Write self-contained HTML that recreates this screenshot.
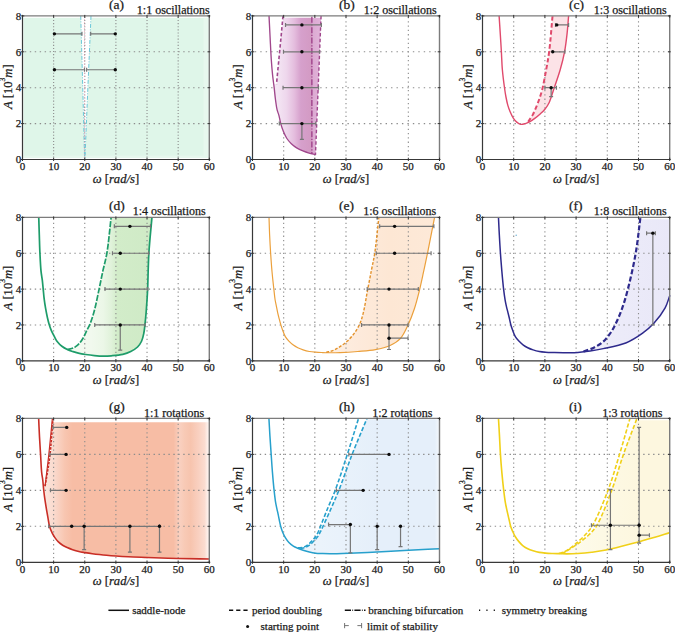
<!DOCTYPE html>
<html><head><meta charset="utf-8"><style>
html,body{margin:0;padding:0;background:#fff;}
svg{display:block;}
text{font-family:'Liberation Serif',serif;fill:#1a1a1a;stroke:#1a1a1a;stroke-width:0.25px;}
.tl{font-size:11px;}
.al{font-size:12.6px;}
.it{font-style:italic;}
.sup{font-size:7.5px;}
.lt{font-size:13.5px;}
.tt{font-size:12px;}
.lg{font-size:11px;}
.ax{fill:none;stroke:#383838;stroke-width:1.2;}
.ax2{fill:none;stroke:#7c7c7c;stroke-width:1.4;}
.tk{stroke:#333;stroke-width:1;}
.gv{stroke:#8c8c8c;stroke-width:1.1;stroke-dasharray:1.3 3.0;}
.gh{stroke:#8c8c8c;stroke-width:1.1;stroke-dasharray:1.4 3.55;}
</style></head><body>
<svg width="675" height="632" viewBox="0 0 675 632">
<defs><linearGradient id="gb" gradientUnits="userSpaceOnUse" x1="277.43" x2="321.07" y1="0" y2="0"><stop offset="0.000" stop-color="#f4e6f4"/><stop offset="0.214" stop-color="#eed6ec"/><stop offset="0.393" stop-color="#e4bcdd"/><stop offset="0.536" stop-color="#d6a0cc"/><stop offset="0.779" stop-color="#d39ac3"/><stop offset="0.814" stop-color="#dcaad2"/><stop offset="1.000" stop-color="#e2b4da"/></linearGradient>
<linearGradient id="gd" gradientUnits="userSpaceOnUse" x1="69.20" x2="153.26" y1="0" y2="0"><stop offset="0.000" stop-color="#f4fbf2"/><stop offset="0.259" stop-color="#f1f9ee"/><stop offset="0.407" stop-color="#ebf7e7"/><stop offset="0.500" stop-color="#e0f2da"/><stop offset="0.574" stop-color="#d2ecc9"/><stop offset="1.000" stop-color="#cfeac6"/></linearGradient>
<linearGradient id="gg" gradientUnits="userSpaceOnUse" x1="44.29" x2="209.30" y1="0" y2="0"><stop offset="0.000" stop-color="#fbe6de"/><stop offset="0.066" stop-color="#fad8cb"/><stop offset="0.123" stop-color="#f8c6b1"/><stop offset="0.170" stop-color="#f7bda5"/><stop offset="0.783" stop-color="#f7bda5"/><stop offset="0.821" stop-color="#f9d0c0"/><stop offset="0.849" stop-color="#f8cab6"/><stop offset="0.887" stop-color="#f7c4ae"/><stop offset="0.934" stop-color="#f9d0c0"/><stop offset="0.972" stop-color="#fbdcd0"/><stop offset="0.987" stop-color="#fdeee8"/><stop offset="1.000" stop-color="#fef4f0"/></linearGradient>
<linearGradient id="ge" gradientUnits="userSpaceOnUse" x1="321.07" x2="436.38" y1="0" y2="0"><stop offset="0.000" stop-color="#fef1e4"/><stop offset="0.324" stop-color="#fdeadb"/><stop offset="0.595" stop-color="#fde7d4"/><stop offset="1.000" stop-color="#fde9d8"/></linearGradient>
<linearGradient id="gh" gradientUnits="userSpaceOnUse" x1="299.25" x2="439.50" y1="0" y2="0"><stop offset="0.000" stop-color="#edf4fb"/><stop offset="0.289" stop-color="#e9f2fb"/><stop offset="0.556" stop-color="#e5effa"/><stop offset="0.967" stop-color="#e5effa"/><stop offset="0.991" stop-color="#f0f6fc"/><stop offset="1.000" stop-color="#f8fbfe"/></linearGradient>
<linearGradient id="gi" gradientUnits="userSpaceOnUse" x1="560.50" x2="669.70" y1="0" y2="0"><stop offset="0.000" stop-color="#fefcef"/><stop offset="0.371" stop-color="#fdf9e5"/><stop offset="0.714" stop-color="#fdf7df"/><stop offset="1.000" stop-color="#fdf7df"/></linearGradient>
<linearGradient id="gf" gradientUnits="userSpaceOnUse" x1="582.34" x2="669.70" y1="0" y2="0"><stop offset="0.000" stop-color="#f1f0fb"/><stop offset="0.464" stop-color="#ecebf9"/><stop offset="1.000" stop-color="#e9e8f8"/></linearGradient></defs>
<rect x="23.40" y="17.80" width="185.10" height="140.00" fill="#dff6e9"/>
<rect x="203.50" y="17.80" width="5.00" height="140.00" fill="#e7f8ee"/>
<rect x="23.40" y="155.60" width="185.10" height="2.20" fill="#e7f8ee"/>
<polygon points="80.72,15.90 90.99,15.90 84.92,159.50 84.61,159.50" fill="#ffffff"/>
<path d="M528.15,121.81 C529.72,119.41 531.46,117.19 532.86,114.62 C534.32,111.94 535.52,108.80 536.66,106.01 C537.72,103.43 538.60,101.15 539.50,98.47 C540.50,95.50 541.41,92.70 542.34,88.96 C543.65,83.69 545.00,76.05 546.15,69.75 C547.26,63.67 548.23,58.83 549.14,51.80 C550.44,41.91 551.41,27.87 552.54,15.90 L568.61,15.90 C568.09,21.88 567.73,27.88 567.05,33.85 C566.38,39.84 565.69,45.85 564.56,51.80 C563.41,57.81 561.89,63.80 560.19,69.75 C558.47,75.77 556.20,81.97 554.26,87.70 C552.46,93.00 550.85,99.07 548.96,102.96 C547.66,105.60 546.39,107.39 544.90,109.24 C543.53,110.94 542.06,112.26 540.44,113.73 C538.70,115.31 536.78,116.97 534.76,118.39 C532.69,119.85 530.35,121.03 528.15,122.34 Z" fill="#fce3e7" stroke="none"/>
<path d="M67.33,349.51 C69.26,349.03 71.47,348.76 73.12,348.07 C74.50,347.50 75.54,346.81 76.67,345.92 C77.92,344.94 79.10,343.72 80.22,342.34 C81.49,340.78 82.73,338.82 83.77,336.96 C84.80,335.12 85.50,333.20 86.45,331.22 C87.48,329.09 88.78,326.84 89.75,324.59 C90.71,322.36 91.44,320.22 92.24,317.78 C93.14,315.01 93.91,312.45 94.82,308.82 C96.21,303.31 97.97,294.44 99.37,287.85 C100.61,281.97 101.60,276.83 102.82,271.18 C104.10,265.30 105.66,260.29 106.87,253.25 C108.57,243.39 109.71,229.35 111.14,217.40 L151.95,217.40 C150.92,229.35 149.60,241.22 148.87,253.25 C148.14,265.41 148.01,281.22 147.59,290.00 C147.36,294.90 147.16,297.66 146.91,301.47 C146.66,305.25 146.42,308.98 146.10,312.76 C145.78,316.57 145.38,320.65 144.98,324.23 C144.62,327.41 144.42,330.31 143.83,333.20 C143.26,335.98 142.68,338.88 141.55,341.26 C140.53,343.43 139.27,345.34 137.57,347.00 C135.73,348.79 133.19,350.26 130.75,351.48 C128.27,352.72 125.72,353.64 122.78,354.35 C119.36,355.17 114.86,355.49 111.39,355.78 C108.47,356.03 106.07,356.16 103.32,356.14 C100.43,356.12 97.41,355.87 94.45,355.60 C91.48,355.33 88.24,354.92 85.55,354.53 C83.28,354.19 81.38,353.93 79.32,353.45 C77.24,352.97 75.14,352.32 73.12,351.66 C71.15,351.01 69.26,350.22 67.33,349.51 Z" fill="url(#gd)" stroke="none"/>
<path d="M326.21,352.38 C328.59,351.72 331.07,351.35 333.35,350.40 C335.66,349.44 337.78,348.09 339.98,346.64 C342.37,345.07 344.82,343.35 347.09,341.26 C349.57,338.98 352.12,336.20 354.20,333.37 C356.25,330.58 358.03,327.61 359.50,324.41 C361.01,321.11 361.93,318.09 363.05,313.84 C364.67,307.66 366.03,298.25 367.47,290.71 C368.86,283.51 370.28,276.12 371.56,269.56 C372.66,263.87 373.68,260.02 374.67,253.61 C376.16,244.00 377.46,229.47 378.85,217.40 L434.58,217.40 C432.31,228.87 429.84,241.74 427.78,251.82 C426.17,259.73 424.83,266.06 423.32,272.97 C421.87,279.62 420.45,286.34 418.90,292.51 C417.49,298.11 416.23,303.18 414.47,308.46 C412.69,313.82 410.67,319.33 408.27,324.41 C405.93,329.36 403.66,334.93 400.29,338.57 C397.30,341.81 393.60,343.91 389.63,345.74 C385.38,347.70 380.49,348.74 375.45,349.69 C369.91,350.73 363.63,351.00 357.72,351.48 C351.81,351.96 345.08,352.36 339.98,352.55 C336.12,352.71 332.32,352.71 329.79,352.73 C328.29,352.75 327.40,352.73 326.21,352.73 Z" fill="url(#ge)" stroke="none"/>
<path d="M583.49,351.48 C586.75,350.28 590.07,349.46 593.26,347.89 C596.65,346.23 600.39,344.06 603.21,341.62 C605.83,339.35 607.83,336.67 609.80,333.91 C611.79,331.12 613.33,328.44 615.10,324.95 C617.39,320.42 619.90,314.52 621.96,308.82 C624.20,302.63 625.93,296.69 627.89,289.10 C630.51,278.97 633.59,265.09 635.69,253.25 C637.72,241.79 638.81,230.54 640.37,219.19 L669.70,219.19 L669.70,294.66 L669.92,295.19 C668.33,299.44 667.46,303.64 665.14,307.92 C662.40,313.00 657.89,318.96 653.88,323.34 C650.33,327.22 646.92,330.10 642.62,333.20 C637.70,336.73 631.97,340.53 625.74,343.05 C618.95,345.81 609.73,347.23 603.21,348.61 C598.29,349.66 593.77,350.37 590.14,350.94 C587.56,351.35 585.71,351.54 583.49,351.84 Z" fill="url(#gf)" stroke="none"/>
<path d="M52.70,422.36 C51.97,433.03 51.46,445.24 50.52,454.38 C49.81,461.24 49.02,466.78 48.03,472.36 C47.16,477.30 46.04,481.60 45.04,486.21 L43.30,486.75 C43.81,490.83 44.28,495.16 44.82,498.98 C45.30,502.36 45.82,505.36 46.35,508.52 C46.87,511.65 47.42,514.82 47.97,517.87 C48.50,520.81 48.82,523.85 49.59,526.50 C50.28,528.90 51.24,531.17 52.23,533.16 C53.10,534.90 54.05,536.39 55.07,537.84 C56.03,539.20 56.95,540.43 58.15,541.61 C59.45,542.90 61.11,544.20 62.66,545.21 C64.12,546.16 65.58,546.82 67.18,547.55 C68.89,548.33 70.73,549.06 72.62,549.71 C74.62,550.39 76.76,551.03 78.85,551.51 C80.91,551.98 82.93,552.24 85.08,552.59 C87.38,552.96 89.85,553.34 92.24,553.67 C94.62,554.00 97.01,554.30 99.40,554.57 C101.78,554.83 104.01,555.06 106.56,555.28 C109.47,555.54 112.56,555.78 115.90,556.00 C119.75,556.26 123.76,556.50 128.35,556.72 C134.04,557.00 140.35,557.18 147.47,557.44 C156.50,557.77 167.90,558.25 178.17,558.52 C188.51,558.79 198.92,558.88 209.30,559.06 L209.30,422.36 Z" fill="url(#gg)" stroke="none"/>
<path d="M300.19,548.63 C301.85,548.27 303.58,548.16 305.17,547.55 C306.81,546.92 308.43,545.91 309.85,544.85 C311.23,543.81 312.36,542.52 313.59,541.25 C314.86,539.94 316.21,538.65 317.33,537.12 C318.51,535.49 319.49,533.52 320.44,531.72 C321.36,529.99 321.89,528.76 322.94,526.50 C324.83,522.43 328.13,515.13 330.73,509.24 C333.44,503.09 335.93,497.70 338.86,490.35 C342.87,480.32 347.53,466.26 352.11,454.38 C356.66,442.57 361.54,430.99 366.26,419.30 L439.50,419.30 L439.50,548.63 C427.72,549.29 416.04,549.98 404.16,550.61 C392.07,551.24 377.70,551.91 367.57,552.41 C360.37,552.76 354.64,553.09 349.12,553.31 C344.63,553.48 340.42,553.61 336.90,553.67 C334.21,553.71 332.16,553.70 329.79,553.67 C327.42,553.64 325.03,553.58 322.66,553.49 C320.28,553.40 317.83,553.38 315.55,553.13 C313.40,552.89 311.41,552.52 309.35,552.05 C307.26,551.57 304.79,550.85 303.11,550.25 C301.94,549.83 301.16,549.41 300.19,548.99 Z" fill="url(#gh)" stroke="none"/>
<path d="M561.56,553.49 C563.04,552.83 564.59,552.29 565.99,551.51 C567.39,550.73 568.46,549.81 569.98,548.81 C572.00,547.49 574.51,546.10 577.04,544.31 C580.20,542.07 584.15,539.18 587.33,536.22 C590.52,533.25 593.20,531.11 596.16,526.50 C601.28,518.54 607.09,502.49 611.67,490.35 C616.16,478.44 619.31,466.17 623.46,454.38 C627.54,442.79 632.03,431.59 636.32,420.20 L669.70,420.20 L669.70,532.62 C664.43,534.24 659.45,535.83 653.88,537.48 C647.68,539.31 641.34,541.15 634.16,543.05 C625.63,545.32 613.86,548.50 606.02,550.07 C600.48,551.17 596.44,551.65 591.70,552.23 C587.06,552.79 582.22,553.22 577.88,553.49 C574.01,553.73 569.90,553.85 566.90,553.85 C564.80,553.84 563.34,553.73 561.56,553.67 Z" fill="url(#gi)" stroke="none"/>
<line x1="53.63" y1="16.90" x2="53.63" y2="158.50" class="gv" style="stroke-dasharray:1.1 2.0"/>
<line x1="84.77" y1="16.90" x2="84.77" y2="158.50" class="gv" style="stroke-dasharray:1.1 2.0"/>
<line x1="115.90" y1="16.90" x2="115.90" y2="158.50" class="gv" style="stroke-dasharray:1.1 2.0"/>
<line x1="147.03" y1="16.90" x2="147.03" y2="158.50" class="gv" style="stroke-dasharray:1.1 2.0"/>
<line x1="178.17" y1="16.90" x2="178.17" y2="158.50" class="gv" style="stroke-dasharray:1.1 2.0"/>
<line x1="24.85" y1="123.60" x2="208.30" y2="123.60" class="gh"/>
<line x1="24.85" y1="87.70" x2="208.30" y2="87.70" class="gh"/>
<line x1="24.85" y1="51.80" x2="208.30" y2="51.80" class="gh"/>
<line x1="283.67" y1="16.90" x2="283.67" y2="158.50" class="gv"/>
<line x1="314.83" y1="16.90" x2="314.83" y2="158.50" class="gv"/>
<line x1="346.00" y1="16.90" x2="346.00" y2="158.50" class="gv"/>
<line x1="377.17" y1="16.90" x2="377.17" y2="158.50" class="gv"/>
<line x1="408.33" y1="16.90" x2="408.33" y2="158.50" class="gv"/>
<line x1="254.80" y1="123.60" x2="438.50" y2="123.60" class="gh" style="stroke-dasharray:1.4 4.05"/>
<line x1="254.80" y1="87.70" x2="438.50" y2="87.70" class="gh" style="stroke-dasharray:1.4 4.05"/>
<line x1="254.80" y1="51.80" x2="438.50" y2="51.80" class="gh" style="stroke-dasharray:1.4 4.05"/>
<line x1="513.70" y1="16.90" x2="513.70" y2="158.50" class="gv"/>
<line x1="544.90" y1="16.90" x2="544.90" y2="158.50" class="gv"/>
<line x1="576.10" y1="16.90" x2="576.10" y2="158.50" class="gv"/>
<line x1="607.30" y1="16.90" x2="607.30" y2="158.50" class="gv"/>
<line x1="638.50" y1="16.90" x2="638.50" y2="158.50" class="gv"/>
<line x1="484.80" y1="123.60" x2="668.70" y2="123.60" class="gh"/>
<line x1="484.80" y1="87.70" x2="668.70" y2="87.70" class="gh"/>
<line x1="484.80" y1="51.80" x2="668.70" y2="51.80" class="gh"/>
<line x1="53.63" y1="218.40" x2="53.63" y2="359.80" class="gv"/>
<line x1="84.77" y1="218.40" x2="84.77" y2="359.80" class="gv"/>
<line x1="115.90" y1="218.40" x2="115.90" y2="359.80" class="gv"/>
<line x1="147.03" y1="218.40" x2="147.03" y2="359.80" class="gv"/>
<line x1="178.17" y1="218.40" x2="178.17" y2="359.80" class="gv"/>
<line x1="24.85" y1="324.95" x2="208.30" y2="324.95" class="gh"/>
<line x1="24.85" y1="289.10" x2="208.30" y2="289.10" class="gh"/>
<line x1="24.85" y1="253.25" x2="208.30" y2="253.25" class="gh"/>
<line x1="283.67" y1="218.40" x2="283.67" y2="359.80" class="gv"/>
<line x1="314.83" y1="218.40" x2="314.83" y2="359.80" class="gv"/>
<line x1="346.00" y1="218.40" x2="346.00" y2="359.80" class="gv"/>
<line x1="377.17" y1="218.40" x2="377.17" y2="359.80" class="gv"/>
<line x1="408.33" y1="218.40" x2="408.33" y2="359.80" class="gv"/>
<line x1="254.80" y1="324.95" x2="438.50" y2="324.95" class="gh"/>
<line x1="254.80" y1="289.10" x2="438.50" y2="289.10" class="gh"/>
<line x1="254.80" y1="253.25" x2="438.50" y2="253.25" class="gh"/>
<line x1="513.70" y1="218.40" x2="513.70" y2="359.80" class="gv"/>
<line x1="544.90" y1="218.40" x2="544.90" y2="359.80" class="gv"/>
<line x1="576.10" y1="218.40" x2="576.10" y2="359.80" class="gv"/>
<line x1="607.30" y1="218.40" x2="607.30" y2="359.80" class="gv"/>
<line x1="638.50" y1="218.40" x2="638.50" y2="359.80" class="gv"/>
<line x1="484.80" y1="324.95" x2="668.70" y2="324.95" class="gh"/>
<line x1="484.80" y1="289.10" x2="668.70" y2="289.10" class="gh"/>
<line x1="484.80" y1="253.25" x2="668.70" y2="253.25" class="gh"/>
<line x1="53.63" y1="419.40" x2="53.63" y2="561.30" class="gv"/>
<line x1="84.77" y1="419.40" x2="84.77" y2="561.30" class="gv"/>
<line x1="115.90" y1="419.40" x2="115.90" y2="561.30" class="gv"/>
<line x1="147.03" y1="419.40" x2="147.03" y2="561.30" class="gv"/>
<line x1="178.17" y1="419.40" x2="178.17" y2="561.30" class="gv"/>
<line x1="24.85" y1="526.32" x2="208.30" y2="526.32" class="gh"/>
<line x1="24.85" y1="490.35" x2="208.30" y2="490.35" class="gh"/>
<line x1="24.85" y1="454.38" x2="208.30" y2="454.38" class="gh"/>
<line x1="283.67" y1="419.40" x2="283.67" y2="561.30" class="gv"/>
<line x1="314.83" y1="419.40" x2="314.83" y2="561.30" class="gv"/>
<line x1="346.00" y1="419.40" x2="346.00" y2="561.30" class="gv"/>
<line x1="377.17" y1="419.40" x2="377.17" y2="561.30" class="gv"/>
<line x1="408.33" y1="419.40" x2="408.33" y2="561.30" class="gv"/>
<line x1="254.80" y1="526.32" x2="438.50" y2="526.32" class="gh"/>
<line x1="254.80" y1="490.35" x2="438.50" y2="490.35" class="gh"/>
<line x1="254.80" y1="454.38" x2="438.50" y2="454.38" class="gh"/>
<line x1="513.70" y1="419.40" x2="513.70" y2="561.30" class="gv"/>
<line x1="544.90" y1="419.40" x2="544.90" y2="561.30" class="gv"/>
<line x1="576.10" y1="419.40" x2="576.10" y2="561.30" class="gv"/>
<line x1="607.30" y1="419.40" x2="607.30" y2="561.30" class="gv"/>
<line x1="638.50" y1="419.40" x2="638.50" y2="561.30" class="gv"/>
<line x1="484.80" y1="526.32" x2="668.70" y2="526.32" class="gh"/>
<line x1="484.80" y1="490.35" x2="668.70" y2="490.35" class="gh"/>
<line x1="484.80" y1="454.38" x2="668.70" y2="454.38" class="gh"/>
<path d="M283.20,17.69 C282.52,23.68 281.85,29.22 281.17,35.64 C280.39,43.07 279.61,51.65 278.84,59.70 C278.05,67.80 277.28,75.97 276.50,84.11 L273.85,84.11 C273.95,85.31 274.01,86.14 274.16,87.70 C274.45,90.62 275.03,96.35 275.56,100.27 C276.03,103.71 276.45,107.22 277.12,109.96 C277.63,112.04 278.35,113.35 278.90,115.34 C279.56,117.75 279.94,120.76 280.67,123.42 C281.41,126.09 282.28,128.78 283.32,131.32 C284.35,133.81 285.47,136.37 286.88,138.50 C288.17,140.46 289.69,142.14 291.33,143.70 C292.96,145.25 294.75,146.64 296.66,147.83 C298.60,149.04 300.79,150.01 302.90,150.88 C304.94,151.74 307.01,152.44 309.10,153.04 C311.16,153.63 313.25,154.00 315.33,154.47 L315.46,155.01 L321.07,17.69 Z" fill="url(#gb)" stroke="none"/>
<path d="M80.72,15.90 C81.39,39.83 82.09,63.77 82.74,87.70 C83.39,111.63 83.99,135.57 84.61,159.50" fill="none" stroke="#6cc8d8" stroke-width="1.00" stroke-dasharray="4 1.5 1 1.5" stroke-linejoin="round"/>
<path d="M90.99,15.90 C89.96,39.83 88.89,63.77 87.88,87.70 C86.87,111.63 85.91,135.57 84.92,159.50" fill="none" stroke="#6cc8d8" stroke-width="1.00" stroke-dasharray="4 1.5 1 1.5" stroke-linejoin="round"/>
<path d="M84.46,15.90 L84.46,159.50" fill="none" stroke="#e8a0b0" stroke-width="0.80" stroke-dasharray="1 2" stroke-linejoin="round"/>
<path d="M54.41,33.85H81.96 M81.96,31.85V35.85" stroke="#767676" stroke-width="1.2" fill="none"/>
<circle cx="54.41" cy="33.85" r="1.7" fill="#0a0a0a"/>
<path d="M115.28,33.85H90.68 M90.68,31.85V35.85" stroke="#767676" stroke-width="1.2" fill="none"/>
<circle cx="115.28" cy="33.85" r="1.7" fill="#0a0a0a"/>
<path d="M54.41,69.75H84.46 M84.46,67.75V71.75" stroke="#767676" stroke-width="1.2" fill="none"/>
<circle cx="54.41" cy="69.75" r="1.7" fill="#0a0a0a"/>
<path d="M115.28,69.75H86.63 M86.63,67.75V71.75" stroke="#767676" stroke-width="1.2" fill="none"/>
<circle cx="115.28" cy="69.75" r="1.7" fill="#0a0a0a"/>
<path d="M269.02,15.90 C269.38,23.08 269.73,30.20 270.11,37.44 C270.49,44.80 270.83,52.96 271.29,59.70 C271.68,65.32 272.09,70.26 272.60,75.14 C273.06,79.54 273.67,83.51 274.16,87.70 C274.65,91.89 275.03,96.35 275.56,100.27 C276.03,103.71 276.45,107.22 277.12,109.96 C277.63,112.04 278.35,113.35 278.90,115.34 C279.56,117.75 279.94,120.76 280.67,123.42 C281.41,126.09 282.28,128.78 283.32,131.32 C284.35,133.81 285.47,136.37 286.88,138.50 C288.17,140.46 289.69,142.14 291.33,143.70 C292.96,145.25 294.75,146.64 296.66,147.83 C298.60,149.04 300.79,150.01 302.90,150.88 C304.94,151.74 307.01,152.44 309.10,153.04 C311.16,153.63 313.25,154.00 315.33,154.47" fill="none" stroke="#a0478c" stroke-width="1.35" stroke-linejoin="round"/>
<path d="M282.98,15.90 C282.38,22.48 281.82,28.74 281.17,35.64 C280.45,43.27 279.61,51.65 278.84,59.70 C278.05,67.80 277.28,75.97 276.50,84.11" fill="none" stroke="#a0478c" stroke-width="1.60" stroke-dasharray="3.5 2.2" stroke-linejoin="round"/>
<path d="M311.87,16.80 L311.87,154.12" fill="none" stroke="#9c3e88" stroke-width="1.30" stroke-dasharray="6 1.6 1.2 1.6" stroke-linejoin="round"/>
<path d="M321.07,15.90 L315.46,155.01" fill="none" stroke="#a0478c" stroke-width="1.40" stroke-dasharray="3.5 2.2" stroke-linejoin="round"/>
<path d="M301.90,24.88H285.54 M285.54,22.88V26.88 M301.90,24.88H321.38 M321.38,22.88V26.88" stroke="#767676" stroke-width="1.2" fill="none"/>
<circle cx="301.90" cy="24.88" r="1.7" fill="#0a0a0a"/>
<path d="M301.90,51.80H283.51 M283.51,49.80V53.80 M301.90,51.80H319.51 M319.51,49.80V53.80" stroke="#767676" stroke-width="1.2" fill="none"/>
<circle cx="301.90" cy="51.80" r="1.7" fill="#0a0a0a"/>
<path d="M301.90,87.70H283.04 M283.04,85.70V89.70 M301.90,87.70H318.57 M318.57,85.70V89.70" stroke="#767676" stroke-width="1.2" fill="none"/>
<circle cx="301.90" cy="87.70" r="1.7" fill="#0a0a0a"/>
<path d="M301.90,123.60H279.30 M279.30,121.60V125.60 M301.90,123.60H315.77 M315.77,121.60V125.60 M301.90,123.60V139.40 M299.90,139.40H303.90" stroke="#767676" stroke-width="1.2" fill="none"/>
<circle cx="301.90" cy="123.60" r="1.7" fill="#0a0a0a"/>
<path d="M499.10,15.90 C499.49,21.88 499.90,27.87 500.28,33.85 C500.66,39.83 501.03,45.82 501.38,51.80 C501.72,57.78 501.86,63.79 502.37,69.75 C502.89,75.70 503.79,82.60 504.46,87.52 C504.94,91.02 505.31,93.54 505.87,96.50 C506.42,99.41 507.01,102.45 507.77,105.11 C508.46,107.49 509.21,109.57 510.14,111.75 C511.10,114.00 512.22,116.56 513.45,118.39 C514.46,119.91 515.52,121.16 516.76,122.16 C517.91,123.10 519.18,124.06 520.56,124.32 C522.02,124.59 523.83,123.99 525.31,123.60 C526.66,123.25 527.74,122.86 529.08,122.16 C530.83,121.27 532.90,119.77 534.76,118.39 C536.69,116.97 538.70,115.31 540.44,113.73 C542.06,112.26 543.53,110.94 544.90,109.24 C546.39,107.39 547.66,105.60 548.96,102.96 C550.85,99.07 552.46,93.00 554.26,87.70 C556.20,81.97 558.47,75.77 560.19,69.75 C561.89,63.80 563.41,57.81 564.56,51.80 C565.69,45.85 566.38,39.84 567.05,33.85 C567.73,27.88 568.09,21.88 568.61,15.90" fill="none" stroke="#e04a6c" stroke-width="1.40" stroke-linejoin="round"/>
<path d="M528.15,121.81 C529.72,119.41 531.46,117.19 532.86,114.62 C534.32,111.94 535.52,108.80 536.66,106.01 C537.72,103.43 538.60,101.15 539.50,98.47 C540.50,95.50 541.41,92.70 542.34,88.96 C543.65,83.69 545.00,76.05 546.15,69.75 C547.26,63.67 548.23,58.83 549.14,51.80 C550.44,41.91 551.41,27.87 552.54,15.90" fill="none" stroke="#e04a6c" stroke-width="2.00" stroke-dasharray="4.5 2.5" stroke-linejoin="round"/>
<path d="M556.76,24.88H555.51 M555.51,22.88V26.88 M556.76,24.88H568.61 M568.61,22.88V26.88" stroke="#767676" stroke-width="1.2" fill="none"/>
<circle cx="556.76" cy="24.88" r="1.7" fill="#0a0a0a"/>
<path d="M552.70,51.80H564.87 M564.87,49.80V53.80" stroke="#767676" stroke-width="1.2" fill="none"/>
<circle cx="552.70" cy="51.80" r="1.7" fill="#0a0a0a"/>
<path d="M551.14,87.70H544.90 M544.90,85.70V89.70 M551.14,87.70H556.44 M556.44,85.70V89.70 M551.14,87.70V96.68 M549.14,96.68H553.14" stroke="#767676" stroke-width="1.2" fill="none"/>
<circle cx="551.14" cy="87.70" r="1.7" fill="#0a0a0a"/>
<path d="M38.75,217.40 C38.94,223.37 39.11,229.35 39.31,235.32 C39.51,241.30 39.65,247.28 39.93,253.25 C40.22,259.23 40.53,266.26 41.02,271.18 C41.37,274.63 41.91,277.00 42.27,279.96 C42.64,282.97 42.89,285.99 43.20,289.10 C43.53,292.32 43.76,295.71 44.17,298.96 C44.57,302.16 45.05,305.30 45.60,308.46 C46.16,311.63 46.84,315.11 47.50,317.96 C48.04,320.33 48.54,322.32 49.18,324.41 C49.80,326.44 50.45,328.40 51.27,330.33 C52.10,332.28 53.12,334.16 54.13,336.06 C55.15,337.99 56.06,340.09 57.37,341.80 C58.65,343.48 60.22,345.00 61.88,346.28 C63.54,347.56 65.45,348.61 67.33,349.51 C69.19,350.40 71.15,351.01 73.12,351.66 C75.14,352.32 77.24,352.97 79.32,353.45 C81.38,353.93 83.28,354.19 85.55,354.53 C88.24,354.92 91.48,355.33 94.45,355.60 C97.41,355.87 100.43,356.12 103.32,356.14 C106.07,356.16 108.47,356.03 111.39,355.78 C114.86,355.49 119.36,355.17 122.78,354.35 C125.72,353.64 128.27,352.72 130.75,351.48 C133.19,350.26 135.73,348.79 137.57,347.00 C139.27,345.34 140.53,343.43 141.55,341.26 C142.68,338.88 143.26,335.98 143.83,333.20 C144.42,330.31 144.62,327.41 144.98,324.23 C145.38,320.65 145.78,316.57 146.10,312.76 C146.42,308.98 146.66,305.25 146.91,301.47 C147.16,297.66 147.36,294.90 147.59,290.00 C148.01,281.22 148.14,265.41 148.87,253.25 C149.60,241.22 150.92,229.35 151.95,217.40" fill="none" stroke="#1e9c6a" stroke-width="1.70" stroke-linejoin="round"/>
<path d="M67.33,349.51 C69.26,349.03 71.47,348.76 73.12,348.07 C74.50,347.50 75.54,346.81 76.67,345.92 C77.92,344.94 79.10,343.72 80.22,342.34 C81.49,340.78 82.73,338.82 83.77,336.96 C84.80,335.12 85.50,333.20 86.45,331.22 C87.48,329.09 88.78,326.84 89.75,324.59 C90.71,322.36 91.44,320.22 92.24,317.78 C93.14,315.01 93.91,312.45 94.82,308.82 C96.21,303.31 97.97,294.44 99.37,287.85 C100.61,281.97 101.60,276.83 102.82,271.18 C104.10,265.30 105.66,260.29 106.87,253.25 C108.57,243.39 109.71,229.35 111.14,217.40" fill="none" stroke="#1e9c6a" stroke-width="1.70" stroke-dasharray="6 1.5" stroke-linejoin="round"/>
<path d="M129.91,226.36H114.34 M114.34,224.36V228.36 M129.91,226.36H150.46 M150.46,224.36V228.36" stroke="#767676" stroke-width="1.2" fill="none"/>
<circle cx="129.91" cy="226.36" r="1.7" fill="#0a0a0a"/>
<path d="M120.26,253.25H112.48 M112.48,251.25V255.25 M120.26,253.25H148.59 M148.59,251.25V255.25" stroke="#767676" stroke-width="1.2" fill="none"/>
<circle cx="120.26" cy="253.25" r="1.7" fill="#0a0a0a"/>
<path d="M120.26,289.10H105.00 M105.00,287.10V291.10 M120.26,289.10H147.66 M147.66,287.10V291.10" stroke="#767676" stroke-width="1.2" fill="none"/>
<circle cx="120.26" cy="289.10" r="1.7" fill="#0a0a0a"/>
<path d="M120.26,324.95H94.73 M94.73,322.95V326.95 M120.26,324.95H145.17 M145.17,322.95V326.95 M120.26,324.95V350.05 M118.26,350.05H122.26" stroke="#767676" stroke-width="1.2" fill="none"/>
<circle cx="120.26" cy="324.95" r="1.7" fill="#0a0a0a"/>
<path d="M269.02,217.40 C269.23,223.37 269.37,229.35 269.64,235.32 C269.91,241.30 270.25,247.28 270.64,253.25 C271.03,259.23 271.44,265.20 271.98,271.18 C272.51,277.15 273.27,283.86 273.85,289.10 C274.30,293.19 274.63,296.90 275.13,300.03 C275.51,302.42 275.98,304.22 276.40,306.31 C276.83,308.40 277.21,310.59 277.65,312.58 C278.06,314.40 278.45,315.91 278.93,317.78 C279.50,319.98 280.19,322.74 280.86,324.95 C281.45,326.88 281.97,328.48 282.67,330.33 C283.44,332.35 284.22,334.75 285.32,336.60 C286.33,338.30 287.58,339.69 288.90,341.08 C290.25,342.50 291.80,343.90 293.33,345.03 C294.76,346.08 296.20,346.92 297.79,347.71 C299.45,348.55 301.25,349.25 303.11,349.87 C305.09,350.52 307.26,351.09 309.35,351.48 C311.40,351.86 313.41,352.02 315.55,352.20 C317.84,352.39 320.28,352.46 322.66,352.55 C325.03,352.64 327.20,352.72 329.79,352.73 C332.89,352.75 336.12,352.71 339.98,352.55 C345.08,352.36 351.81,351.96 357.72,351.48 C363.63,351.00 369.91,350.73 375.45,349.69 C380.49,348.74 385.38,347.70 389.63,345.74 C393.60,343.91 397.30,341.81 400.29,338.57 C403.66,334.93 405.93,329.36 408.27,324.41 C410.67,319.33 412.69,313.82 414.47,308.46 C416.23,303.18 417.49,298.11 418.90,292.51 C420.45,286.34 421.87,279.62 423.32,272.97 C424.83,266.06 426.17,259.73 427.78,251.82 C429.84,241.74 432.31,228.87 434.58,217.40" fill="none" stroke="#eba03c" stroke-width="1.20" stroke-linejoin="round"/>
<path d="M326.21,352.38 C328.59,351.72 331.07,351.35 333.35,350.40 C335.66,349.44 337.78,348.09 339.98,346.64 C342.37,345.07 344.82,343.35 347.09,341.26 C349.57,338.98 352.12,336.20 354.20,333.37 C356.25,330.58 358.03,327.61 359.50,324.41 C361.01,321.11 361.93,318.09 363.05,313.84 C364.67,307.66 366.03,298.25 367.47,290.71 C368.86,283.51 370.28,276.12 371.56,269.56 C372.66,263.87 373.68,260.02 374.67,253.61 C376.16,244.00 377.46,229.47 378.85,217.40" fill="none" stroke="#e3922c" stroke-width="1.40" stroke-dasharray="3 1.6" stroke-linejoin="round"/>
<path d="M394.62,226.36H379.66 M379.66,224.36V228.36 M394.62,226.36H433.89 M433.89,224.36V228.36" stroke="#767676" stroke-width="1.2" fill="none"/>
<circle cx="394.62" cy="226.36" r="1.7" fill="#0a0a0a"/>
<path d="M394.62,253.25H376.23 M376.23,251.25V255.25 M394.62,253.25H431.08 M431.08,251.25V255.25" stroke="#767676" stroke-width="1.2" fill="none"/>
<circle cx="394.62" cy="253.25" r="1.7" fill="#0a0a0a"/>
<path d="M389.01,289.10H367.19 M367.19,287.10V291.10 M389.01,289.10H418.31 M418.31,287.10V291.10" stroke="#767676" stroke-width="1.2" fill="none"/>
<circle cx="389.01" cy="289.10" r="1.7" fill="#0a0a0a"/>
<path d="M389.01,324.95H361.58 M361.58,322.95V326.95 M389.01,324.95H408.02 M408.02,322.95V326.95 M389.01,324.95V349.51 M387.01,349.51H391.01" stroke="#767676" stroke-width="1.2" fill="none"/>
<circle cx="389.01" cy="324.95" r="1.7" fill="#0a0a0a"/>
<path d="M389.01,338.21H408.02 M408.02,336.21V340.21" stroke="#767676" stroke-width="1.2" fill="none"/>
<circle cx="389.01" cy="338.21" r="1.7" fill="#0a0a0a"/>
<path d="M498.47,217.40 C498.77,223.38 499.02,229.35 499.35,235.32 C499.68,241.30 500.02,247.28 500.44,253.25 C500.86,259.23 501.32,265.20 501.84,271.18 C502.37,277.15 502.97,283.87 503.59,289.10 C504.08,293.20 504.58,296.90 505.12,300.03 C505.53,302.42 505.93,304.22 506.40,306.31 C506.87,308.40 507.47,310.59 507.96,312.58 C508.41,314.40 508.79,315.91 509.24,317.78 C509.76,319.98 510.27,322.74 510.89,324.95 C511.43,326.88 511.98,328.48 512.67,330.33 C513.43,332.35 514.22,334.75 515.32,336.60 C516.33,338.30 517.56,339.69 518.88,341.08 C520.23,342.50 521.80,343.89 523.34,345.03 C524.77,346.08 526.19,346.92 527.77,347.71 C529.44,348.55 531.24,349.25 533.11,349.87 C535.08,350.52 537.26,351.09 539.35,351.48 C541.41,351.86 543.30,352.02 545.56,352.20 C548.25,352.41 551.48,352.46 554.45,352.55 C557.41,352.64 560.59,352.71 563.34,352.73 C565.72,352.76 567.67,352.79 569.98,352.73 C572.50,352.68 574.96,352.61 577.88,352.38 C581.52,352.08 586.00,351.55 590.14,350.94 C594.44,350.31 598.29,349.66 603.21,348.61 C609.73,347.23 618.95,345.81 625.74,343.05 C631.97,340.53 637.70,336.73 642.62,333.20 C646.92,330.10 650.33,327.22 653.88,323.34 C657.89,318.96 662.40,313.00 665.14,307.92 C667.46,303.64 668.33,299.44 669.92,295.19" fill="none" stroke="#2e2a8c" stroke-width="1.50" stroke-linejoin="round"/>
<path d="M583.49,351.48 C586.75,350.28 590.07,349.46 593.26,347.89 C596.65,346.23 600.39,344.06 603.21,341.62 C605.83,339.35 607.83,336.67 609.80,333.91 C611.79,331.12 613.33,328.44 615.10,324.95 C617.39,320.42 619.90,314.52 621.96,308.82 C624.20,302.63 625.93,296.69 627.89,289.10 C630.51,278.97 633.61,265.21 635.69,253.25 C637.75,241.43 638.81,229.59 640.37,217.76" fill="none" stroke="#2e2a8c" stroke-width="2.20" stroke-dasharray="5 2.4" stroke-linejoin="round"/>
<path d="M652.85,233.17H646.61 M646.61,231.17V235.17 M652.85,233.17H655.35 M655.35,231.17V235.17 M652.85,233.17V324.95 M650.85,324.95H654.85" stroke="#767676" stroke-width="1.2" fill="none"/>
<circle cx="652.85" cy="233.17" r="1.7" fill="#0a0a0a"/>
<circle cx="516.20" cy="235.32" r="0.8" fill="#7ab8d8"/>
<path d="M38.66,418.40 C38.93,424.40 39.15,430.39 39.47,436.39 C39.78,442.38 40.19,448.38 40.56,454.38 C40.92,460.37 41.17,467.65 41.65,472.36 C41.96,475.43 42.41,477.21 42.74,479.92 C43.11,483.03 43.34,486.73 43.70,489.99 C44.04,493.08 44.39,495.95 44.82,498.98 C45.27,502.12 45.82,505.36 46.35,508.52 C46.87,511.65 47.42,514.82 47.97,517.87 C48.50,520.81 48.82,523.85 49.59,526.50 C50.28,528.90 51.24,531.17 52.23,533.16 C53.10,534.90 54.05,536.39 55.07,537.84 C56.03,539.20 56.95,540.43 58.15,541.61 C59.45,542.90 61.11,544.20 62.66,545.21 C64.12,546.16 65.58,546.82 67.18,547.55 C68.89,548.33 70.73,549.06 72.62,549.71 C74.62,550.39 76.76,551.03 78.85,551.51 C80.91,551.98 82.93,552.24 85.08,552.59 C87.38,552.96 89.85,553.34 92.24,553.67 C94.62,554.00 97.01,554.30 99.40,554.57 C101.78,554.83 104.01,555.06 106.56,555.28 C109.47,555.54 112.56,555.78 115.90,556.00 C119.75,556.26 123.76,556.50 128.35,556.72 C134.04,557.00 140.35,557.18 147.47,557.44 C156.50,557.77 167.90,558.25 178.17,558.52 C188.51,558.79 198.92,558.88 209.30,559.06" fill="none" stroke="#c92e26" stroke-width="1.60" stroke-linejoin="round"/>
<path d="M52.39,418.40 C51.20,430.33 50.10,442.60 48.84,454.20 C47.64,465.17 46.31,475.54 45.04,486.21" fill="none" stroke="#c92e26" stroke-width="1.20" stroke-linejoin="round"/>
<path d="M45.04,486.21 C45.83,481.60 46.63,477.30 47.41,472.36 C48.29,466.72 49.22,461.28 50.02,454.20 C51.15,444.28 52.01,430.33 53.01,418.40" fill="none" stroke="#c92e26" stroke-width="1.60" stroke-dasharray="2.5 1.2" stroke-linejoin="round"/>
<path d="M66.71,427.39H53.01 M53.01,425.39V429.39" stroke="#767676" stroke-width="1.2" fill="none"/>
<circle cx="66.71" cy="427.39" r="1.7" fill="#0a0a0a"/>
<path d="M66.09,454.38H49.90 M49.90,452.38V456.38" stroke="#767676" stroke-width="1.2" fill="none"/>
<circle cx="66.09" cy="454.38" r="1.7" fill="#0a0a0a"/>
<path d="M66.09,490.35H50.52 M50.52,488.35V492.35" stroke="#767676" stroke-width="1.2" fill="none"/>
<circle cx="66.09" cy="490.35" r="1.7" fill="#0a0a0a"/>
<path d="M71.69,526.32H48.65 M48.65,524.32V528.32 M71.69,526.32H159.49 M159.49,524.32V528.32" stroke="#767676" stroke-width="1.2" fill="none"/>
<circle cx="71.69" cy="526.32" r="1.7" fill="#0a0a0a"/>
<path d="M84.14,526.32V549.71 M82.14,549.71H86.14" stroke="#767676" stroke-width="1.2" fill="none"/>
<circle cx="84.14" cy="526.32" r="1.7" fill="#0a0a0a"/>
<path d="M129.91,526.32V552.05 M127.91,552.05H131.91" stroke="#767676" stroke-width="1.2" fill="none"/>
<circle cx="129.91" cy="526.32" r="1.7" fill="#0a0a0a"/>
<path d="M159.49,526.32V552.05 M157.49,552.05H161.49" stroke="#767676" stroke-width="1.2" fill="none"/>
<circle cx="159.49" cy="526.32" r="1.7" fill="#0a0a0a"/>
<path d="M268.92,418.40 C269.27,424.40 269.58,430.39 269.95,436.39 C270.33,442.38 270.75,448.38 271.17,454.38 C271.58,460.37 271.96,466.37 272.45,472.36 C272.94,478.36 273.52,485.00 274.10,490.35 C274.57,494.67 275.03,498.75 275.56,502.04 C275.96,504.47 276.37,506.24 276.81,508.34 C277.25,510.44 277.78,512.61 278.21,514.63 C278.61,516.50 278.89,518.12 279.30,520.03 C279.77,522.22 280.28,524.89 280.89,527.04 C281.43,528.93 281.95,530.53 282.67,532.26 C283.42,534.07 284.28,535.95 285.32,537.66 C286.36,539.37 287.54,541.09 288.90,542.51 C290.22,543.90 291.79,545.13 293.33,546.11 C294.76,547.02 296.22,547.60 297.79,548.27 C299.47,548.99 301.26,549.64 303.11,550.25 C305.10,550.90 307.26,551.57 309.35,552.05 C311.41,552.52 313.40,552.89 315.55,553.13 C317.83,553.38 320.28,553.40 322.66,553.49 C325.03,553.58 327.42,553.64 329.79,553.67 C332.16,553.70 334.21,553.71 336.90,553.67 C340.42,553.61 344.63,553.48 349.12,553.31 C354.64,553.09 360.37,552.76 367.57,552.41 C377.70,551.91 392.07,551.24 404.16,550.61 C416.04,549.98 427.72,549.29 439.50,548.63" fill="none" stroke="#27a0cc" stroke-width="1.50" stroke-linejoin="round"/>
<path d="M298.00,547.91 C300.00,547.61 302.20,547.66 303.99,547.01 C305.65,546.41 307.10,545.37 308.44,544.31 C309.77,543.27 310.83,541.96 312.00,540.71 C313.20,539.44 314.51,538.22 315.55,536.76 C316.63,535.24 317.51,533.44 318.32,531.72 C319.13,530.02 319.54,528.75 320.44,526.50 C322.08,522.42 324.90,515.11 327.30,509.24 C329.82,503.07 332.44,497.71 335.22,490.35 C338.99,480.33 343.41,466.39 347.31,454.38 C351.19,442.40 354.81,430.39 358.56,418.40" fill="none" stroke="#27a0cc" stroke-width="1.60" stroke-dasharray="4.2 2" stroke-linejoin="round"/>
<path d="M300.19,548.63 C301.85,548.27 303.58,548.16 305.17,547.55 C306.81,546.92 308.43,545.91 309.85,544.85 C311.23,543.81 312.36,542.52 313.59,541.25 C314.86,539.94 316.21,538.65 317.33,537.12 C318.51,535.49 319.49,533.52 320.44,531.72 C321.36,529.99 321.89,528.76 322.94,526.50 C324.83,522.43 328.13,515.13 330.73,509.24 C333.44,503.09 335.93,497.70 338.86,490.35 C342.87,480.32 347.44,466.32 352.11,454.38 C356.82,442.34 362.04,430.39 367.01,418.40" fill="none" stroke="#27a0cc" stroke-width="1.60" stroke-dasharray="4.2 2" stroke-linejoin="round"/>
<path d="M389.01,454.38H348.81 M348.81,452.38V456.38" stroke="#767676" stroke-width="1.2" fill="none"/>
<circle cx="389.01" cy="454.38" r="1.7" fill="#0a0a0a"/>
<path d="M363.14,490.35H336.34 M336.34,488.35V492.35" stroke="#767676" stroke-width="1.2" fill="none"/>
<circle cx="363.14" cy="490.35" r="1.7" fill="#0a0a0a"/>
<path d="M350.36,524.53H328.55 M328.55,522.53V526.53 M350.36,524.53V552.95 M348.36,552.95H352.36" stroke="#767676" stroke-width="1.2" fill="none"/>
<circle cx="350.36" cy="524.53" r="1.7" fill="#0a0a0a"/>
<path d="M377.17,526.32V549.53 M375.17,549.53H379.17" stroke="#767676" stroke-width="1.2" fill="none"/>
<circle cx="377.17" cy="526.32" r="1.7" fill="#0a0a0a"/>
<path d="M400.54,526.32V546.65 M398.54,546.65H402.54" stroke="#767676" stroke-width="1.2" fill="none"/>
<circle cx="400.54" cy="526.32" r="1.7" fill="#0a0a0a"/>
<path d="M498.47,418.40 C498.82,424.40 499.18,430.39 499.50,436.39 C499.83,442.38 500.05,448.38 500.44,454.38 C500.83,460.37 501.30,466.37 501.84,472.36 C502.39,478.36 503.08,485.00 503.72,490.35 C504.23,494.67 504.73,498.75 505.28,502.04 C505.68,504.47 506.08,506.24 506.52,508.34 C506.97,510.44 507.47,512.62 507.93,514.63 C508.35,516.50 508.72,518.11 509.18,520.03 C509.70,522.22 510.23,525.01 510.89,527.04 C511.43,528.68 511.99,529.85 512.67,531.36 C513.44,533.07 514.29,535.05 515.32,536.76 C516.36,538.47 517.56,540.07 518.88,541.61 C520.23,543.20 521.78,544.88 523.34,546.11 C524.76,547.23 526.19,548.04 527.77,548.81 C529.43,549.61 531.24,550.20 533.11,550.79 C535.09,551.41 537.26,552.02 539.35,552.41 C541.41,552.79 543.41,552.95 545.56,553.13 C547.84,553.32 550.30,553.40 552.67,553.49 C555.04,553.58 557.41,553.61 559.78,553.67 C562.15,553.73 564.27,553.86 566.90,553.85 C570.16,553.83 574.01,553.73 577.88,553.49 C582.22,553.22 587.06,552.79 591.70,552.23 C596.44,551.65 600.48,551.17 606.02,550.07 C613.86,548.50 625.63,545.32 634.16,543.05 C641.34,541.15 647.68,539.31 653.88,537.48 C659.45,535.83 664.43,534.24 669.70,532.62" fill="none" stroke="#f0d018" stroke-width="1.60" stroke-linejoin="round"/>
<path d="M558.94,553.49 C560.71,552.95 562.60,552.58 564.24,551.87 C565.81,551.19 567.08,550.38 568.61,549.35 C570.48,548.08 572.37,546.50 574.54,544.67 C577.34,542.31 581.00,539.25 583.90,536.22 C586.80,533.19 589.15,531.03 591.95,526.50 C596.92,518.49 603.35,502.51 607.99,490.35 C612.51,478.46 615.86,466.39 619.53,454.38 C623.18,442.41 626.48,430.39 629.95,418.40" fill="none" stroke="#f0d018" stroke-width="1.60" stroke-dasharray="4.2 2" stroke-linejoin="round"/>
<path d="M561.56,553.49 C563.04,552.83 564.59,552.29 565.99,551.51 C567.39,550.73 568.46,549.81 569.98,548.81 C572.00,547.49 574.51,546.10 577.04,544.31 C580.20,542.07 584.15,539.18 587.33,536.22 C590.52,533.25 593.20,531.11 596.16,526.50 C601.28,518.54 607.09,502.49 611.67,490.35 C616.16,478.44 619.26,466.32 623.46,454.38 C627.69,442.34 632.47,430.39 636.97,418.40" fill="none" stroke="#f0d018" stroke-width="1.60" stroke-dasharray="4.2 2" stroke-linejoin="round"/>
<path d="M610.42,525.25H591.39 M591.39,523.25V527.25 M610.42,525.25H639.44 M639.44,523.25V527.25 M610.42,525.25V549.53 M608.42,549.53H612.42 M610.42,525.25V489.45 M608.42,489.45H612.42" stroke="#767676" stroke-width="1.2" fill="none"/>
<circle cx="610.42" cy="525.25" r="1.7" fill="#0a0a0a"/>
<path d="M639.12,525.25V543.05 M637.12,543.05H641.12 M639.12,525.25V427.39 M637.12,427.39H641.12" stroke="#767676" stroke-width="1.2" fill="none"/>
<circle cx="639.12" cy="525.25" r="1.7" fill="#0a0a0a"/>
<path d="M639.12,535.14H649.42 M649.42,533.14V537.14" stroke="#767676" stroke-width="1.2" fill="none"/>
<circle cx="639.12" cy="535.14" r="1.7" fill="#0a0a0a"/>
<path d="M22.50,15.90H209.30V159.50" class="ax2"/>
<path d="M22.50,15.40V159.50H209.80" class="ax"/>
<line x1="22.50" y1="161.00" x2="22.50" y2="157.70" class="tk"/>
<line x1="22.50" y1="14.90" x2="22.50" y2="17.70" class="tk"/>
<line x1="53.63" y1="161.00" x2="53.63" y2="157.70" class="tk"/>
<line x1="53.63" y1="14.90" x2="53.63" y2="17.70" class="tk"/>
<line x1="84.77" y1="161.00" x2="84.77" y2="157.70" class="tk"/>
<line x1="84.77" y1="14.90" x2="84.77" y2="17.70" class="tk"/>
<line x1="115.90" y1="161.00" x2="115.90" y2="157.70" class="tk"/>
<line x1="115.90" y1="14.90" x2="115.90" y2="17.70" class="tk"/>
<line x1="147.03" y1="161.00" x2="147.03" y2="157.70" class="tk"/>
<line x1="147.03" y1="14.90" x2="147.03" y2="17.70" class="tk"/>
<line x1="178.17" y1="161.00" x2="178.17" y2="157.70" class="tk"/>
<line x1="178.17" y1="14.90" x2="178.17" y2="17.70" class="tk"/>
<line x1="209.30" y1="161.00" x2="209.30" y2="157.70" class="tk"/>
<line x1="209.30" y1="14.90" x2="209.30" y2="17.70" class="tk"/>
<line x1="21.00" y1="159.50" x2="24.30" y2="159.50" class="tk"/>
<line x1="210.30" y1="159.50" x2="207.50" y2="159.50" class="tk"/>
<line x1="21.00" y1="123.60" x2="24.30" y2="123.60" class="tk"/>
<line x1="210.30" y1="123.60" x2="207.50" y2="123.60" class="tk"/>
<line x1="21.00" y1="87.70" x2="24.30" y2="87.70" class="tk"/>
<line x1="210.30" y1="87.70" x2="207.50" y2="87.70" class="tk"/>
<line x1="21.00" y1="51.80" x2="24.30" y2="51.80" class="tk"/>
<line x1="210.30" y1="51.80" x2="207.50" y2="51.80" class="tk"/>
<line x1="21.00" y1="15.90" x2="24.30" y2="15.90" class="tk"/>
<line x1="210.30" y1="15.90" x2="207.50" y2="15.90" class="tk"/>
<text x="22.50" y="170.10" class="tl" text-anchor="middle">0</text>
<text x="53.63" y="170.10" class="tl" text-anchor="middle">10</text>
<text x="84.77" y="170.10" class="tl" text-anchor="middle">20</text>
<text x="115.90" y="170.10" class="tl" text-anchor="middle">30</text>
<text x="147.03" y="170.10" class="tl" text-anchor="middle">40</text>
<text x="178.17" y="170.10" class="tl" text-anchor="middle">50</text>
<text x="209.30" y="170.10" class="tl" text-anchor="middle">60</text>
<text x="21.30" y="163.20" class="tl" text-anchor="end">0</text>
<text x="21.30" y="127.30" class="tl" text-anchor="end">2</text>
<text x="21.30" y="91.40" class="tl" text-anchor="end">4</text>
<text x="21.30" y="55.50" class="tl" text-anchor="end">6</text>
<text x="21.30" y="19.60" class="tl" text-anchor="end">8</text>
<text x="115.90" y="182.50" class="al" text-anchor="middle"><tspan class="it">ω</tspan> [<tspan class="it">rad/s</tspan>]</text>
<text transform="translate(11.80,86.70) rotate(-90)" class="al" text-anchor="middle"><tspan class="it">A</tspan> [10<tspan class="sup" dy="-7">3</tspan><tspan dy="7" class="it">m</tspan>]</text>
<text x="108.90" y="8.70" class="lt">(a)</text>
<text x="136.80" y="13.60" class="tt">1:1 oscillations</text>
<path d="M252.50,15.90H439.50V159.50" class="ax2"/>
<path d="M252.50,15.40V159.50H440.00" class="ax"/>
<line x1="252.50" y1="161.00" x2="252.50" y2="157.70" class="tk"/>
<line x1="252.50" y1="14.90" x2="252.50" y2="17.70" class="tk"/>
<line x1="283.67" y1="161.00" x2="283.67" y2="157.70" class="tk"/>
<line x1="283.67" y1="14.90" x2="283.67" y2="17.70" class="tk"/>
<line x1="314.83" y1="161.00" x2="314.83" y2="157.70" class="tk"/>
<line x1="314.83" y1="14.90" x2="314.83" y2="17.70" class="tk"/>
<line x1="346.00" y1="161.00" x2="346.00" y2="157.70" class="tk"/>
<line x1="346.00" y1="14.90" x2="346.00" y2="17.70" class="tk"/>
<line x1="377.17" y1="161.00" x2="377.17" y2="157.70" class="tk"/>
<line x1="377.17" y1="14.90" x2="377.17" y2="17.70" class="tk"/>
<line x1="408.33" y1="161.00" x2="408.33" y2="157.70" class="tk"/>
<line x1="408.33" y1="14.90" x2="408.33" y2="17.70" class="tk"/>
<line x1="439.50" y1="161.00" x2="439.50" y2="157.70" class="tk"/>
<line x1="439.50" y1="14.90" x2="439.50" y2="17.70" class="tk"/>
<line x1="251.00" y1="159.50" x2="254.30" y2="159.50" class="tk"/>
<line x1="440.50" y1="159.50" x2="437.70" y2="159.50" class="tk"/>
<line x1="251.00" y1="123.60" x2="254.30" y2="123.60" class="tk"/>
<line x1="440.50" y1="123.60" x2="437.70" y2="123.60" class="tk"/>
<line x1="251.00" y1="87.70" x2="254.30" y2="87.70" class="tk"/>
<line x1="440.50" y1="87.70" x2="437.70" y2="87.70" class="tk"/>
<line x1="251.00" y1="51.80" x2="254.30" y2="51.80" class="tk"/>
<line x1="440.50" y1="51.80" x2="437.70" y2="51.80" class="tk"/>
<line x1="251.00" y1="15.90" x2="254.30" y2="15.90" class="tk"/>
<line x1="440.50" y1="15.90" x2="437.70" y2="15.90" class="tk"/>
<text x="252.50" y="170.10" class="tl" text-anchor="middle">0</text>
<text x="283.67" y="170.10" class="tl" text-anchor="middle">10</text>
<text x="314.83" y="170.10" class="tl" text-anchor="middle">20</text>
<text x="346.00" y="170.10" class="tl" text-anchor="middle">30</text>
<text x="377.17" y="170.10" class="tl" text-anchor="middle">40</text>
<text x="408.33" y="170.10" class="tl" text-anchor="middle">50</text>
<text x="439.50" y="170.10" class="tl" text-anchor="middle">60</text>
<text x="251.30" y="163.20" class="tl" text-anchor="end">0</text>
<text x="251.30" y="127.30" class="tl" text-anchor="end">2</text>
<text x="251.30" y="91.40" class="tl" text-anchor="end">4</text>
<text x="251.30" y="55.50" class="tl" text-anchor="end">6</text>
<text x="251.30" y="19.60" class="tl" text-anchor="end">8</text>
<text x="346.00" y="182.50" class="al" text-anchor="middle"><tspan class="it">ω</tspan> [<tspan class="it">rad/s</tspan>]</text>
<text transform="translate(241.80,86.70) rotate(-90)" class="al" text-anchor="middle"><tspan class="it">A</tspan> [10<tspan class="sup" dy="-7">3</tspan><tspan dy="7" class="it">m</tspan>]</text>
<text x="338.90" y="8.70" class="lt">(b)</text>
<text x="363.80" y="13.60" class="tt">1:2 oscillations</text>
<path d="M482.50,15.90H669.70V159.50" class="ax2"/>
<path d="M482.50,15.40V159.50H670.20" class="ax"/>
<line x1="482.50" y1="161.00" x2="482.50" y2="157.70" class="tk"/>
<line x1="482.50" y1="14.90" x2="482.50" y2="17.70" class="tk"/>
<line x1="513.70" y1="161.00" x2="513.70" y2="157.70" class="tk"/>
<line x1="513.70" y1="14.90" x2="513.70" y2="17.70" class="tk"/>
<line x1="544.90" y1="161.00" x2="544.90" y2="157.70" class="tk"/>
<line x1="544.90" y1="14.90" x2="544.90" y2="17.70" class="tk"/>
<line x1="576.10" y1="161.00" x2="576.10" y2="157.70" class="tk"/>
<line x1="576.10" y1="14.90" x2="576.10" y2="17.70" class="tk"/>
<line x1="607.30" y1="161.00" x2="607.30" y2="157.70" class="tk"/>
<line x1="607.30" y1="14.90" x2="607.30" y2="17.70" class="tk"/>
<line x1="638.50" y1="161.00" x2="638.50" y2="157.70" class="tk"/>
<line x1="638.50" y1="14.90" x2="638.50" y2="17.70" class="tk"/>
<line x1="669.70" y1="161.00" x2="669.70" y2="157.70" class="tk"/>
<line x1="669.70" y1="14.90" x2="669.70" y2="17.70" class="tk"/>
<line x1="481.00" y1="159.50" x2="484.30" y2="159.50" class="tk"/>
<line x1="670.70" y1="159.50" x2="667.90" y2="159.50" class="tk"/>
<line x1="481.00" y1="123.60" x2="484.30" y2="123.60" class="tk"/>
<line x1="670.70" y1="123.60" x2="667.90" y2="123.60" class="tk"/>
<line x1="481.00" y1="87.70" x2="484.30" y2="87.70" class="tk"/>
<line x1="670.70" y1="87.70" x2="667.90" y2="87.70" class="tk"/>
<line x1="481.00" y1="51.80" x2="484.30" y2="51.80" class="tk"/>
<line x1="670.70" y1="51.80" x2="667.90" y2="51.80" class="tk"/>
<line x1="481.00" y1="15.90" x2="484.30" y2="15.90" class="tk"/>
<line x1="670.70" y1="15.90" x2="667.90" y2="15.90" class="tk"/>
<text x="482.50" y="170.10" class="tl" text-anchor="middle">0</text>
<text x="513.70" y="170.10" class="tl" text-anchor="middle">10</text>
<text x="544.90" y="170.10" class="tl" text-anchor="middle">20</text>
<text x="576.10" y="170.10" class="tl" text-anchor="middle">30</text>
<text x="607.30" y="170.10" class="tl" text-anchor="middle">40</text>
<text x="638.50" y="170.10" class="tl" text-anchor="middle">50</text>
<text x="669.70" y="170.10" class="tl" text-anchor="middle">60</text>
<text x="481.30" y="163.20" class="tl" text-anchor="end">0</text>
<text x="481.30" y="127.30" class="tl" text-anchor="end">2</text>
<text x="481.30" y="91.40" class="tl" text-anchor="end">4</text>
<text x="481.30" y="55.50" class="tl" text-anchor="end">6</text>
<text x="481.30" y="19.60" class="tl" text-anchor="end">8</text>
<text x="576.10" y="182.50" class="al" text-anchor="middle"><tspan class="it">ω</tspan> [<tspan class="it">rad/s</tspan>]</text>
<text transform="translate(471.80,86.70) rotate(-90)" class="al" text-anchor="middle"><tspan class="it">A</tspan> [10<tspan class="sup" dy="-7">3</tspan><tspan dy="7" class="it">m</tspan>]</text>
<text x="568.90" y="8.70" class="lt">(c)</text>
<text x="593.80" y="13.60" class="tt">1:3 oscillations</text>
<path d="M22.50,217.40H209.30V360.80" class="ax2"/>
<path d="M22.50,216.90V360.80H209.80" class="ax"/>
<line x1="22.50" y1="362.30" x2="22.50" y2="359.00" class="tk"/>
<line x1="22.50" y1="216.40" x2="22.50" y2="219.20" class="tk"/>
<line x1="53.63" y1="362.30" x2="53.63" y2="359.00" class="tk"/>
<line x1="53.63" y1="216.40" x2="53.63" y2="219.20" class="tk"/>
<line x1="84.77" y1="362.30" x2="84.77" y2="359.00" class="tk"/>
<line x1="84.77" y1="216.40" x2="84.77" y2="219.20" class="tk"/>
<line x1="115.90" y1="362.30" x2="115.90" y2="359.00" class="tk"/>
<line x1="115.90" y1="216.40" x2="115.90" y2="219.20" class="tk"/>
<line x1="147.03" y1="362.30" x2="147.03" y2="359.00" class="tk"/>
<line x1="147.03" y1="216.40" x2="147.03" y2="219.20" class="tk"/>
<line x1="178.17" y1="362.30" x2="178.17" y2="359.00" class="tk"/>
<line x1="178.17" y1="216.40" x2="178.17" y2="219.20" class="tk"/>
<line x1="209.30" y1="362.30" x2="209.30" y2="359.00" class="tk"/>
<line x1="209.30" y1="216.40" x2="209.30" y2="219.20" class="tk"/>
<line x1="21.00" y1="360.80" x2="24.30" y2="360.80" class="tk"/>
<line x1="210.30" y1="360.80" x2="207.50" y2="360.80" class="tk"/>
<line x1="21.00" y1="324.95" x2="24.30" y2="324.95" class="tk"/>
<line x1="210.30" y1="324.95" x2="207.50" y2="324.95" class="tk"/>
<line x1="21.00" y1="289.10" x2="24.30" y2="289.10" class="tk"/>
<line x1="210.30" y1="289.10" x2="207.50" y2="289.10" class="tk"/>
<line x1="21.00" y1="253.25" x2="24.30" y2="253.25" class="tk"/>
<line x1="210.30" y1="253.25" x2="207.50" y2="253.25" class="tk"/>
<line x1="21.00" y1="217.40" x2="24.30" y2="217.40" class="tk"/>
<line x1="210.30" y1="217.40" x2="207.50" y2="217.40" class="tk"/>
<text x="22.50" y="371.40" class="tl" text-anchor="middle">0</text>
<text x="53.63" y="371.40" class="tl" text-anchor="middle">10</text>
<text x="84.77" y="371.40" class="tl" text-anchor="middle">20</text>
<text x="115.90" y="371.40" class="tl" text-anchor="middle">30</text>
<text x="147.03" y="371.40" class="tl" text-anchor="middle">40</text>
<text x="178.17" y="371.40" class="tl" text-anchor="middle">50</text>
<text x="209.30" y="371.40" class="tl" text-anchor="middle">60</text>
<text x="21.30" y="364.50" class="tl" text-anchor="end">0</text>
<text x="21.30" y="328.65" class="tl" text-anchor="end">2</text>
<text x="21.30" y="292.80" class="tl" text-anchor="end">4</text>
<text x="21.30" y="256.95" class="tl" text-anchor="end">6</text>
<text x="21.30" y="221.10" class="tl" text-anchor="end">8</text>
<text x="115.90" y="383.80" class="al" text-anchor="middle"><tspan class="it">ω</tspan> [<tspan class="it">rad/s</tspan>]</text>
<text transform="translate(11.80,288.10) rotate(-90)" class="al" text-anchor="middle"><tspan class="it">A</tspan> [10<tspan class="sup" dy="-7">3</tspan><tspan dy="7" class="it">m</tspan>]</text>
<text x="108.90" y="210.20" class="lt">(d)</text>
<text x="132.70" y="214.90" class="tt">1:4 oscillations</text>
<path d="M252.50,217.40H439.50V360.80" class="ax2"/>
<path d="M252.50,216.90V360.80H440.00" class="ax"/>
<line x1="252.50" y1="362.30" x2="252.50" y2="359.00" class="tk"/>
<line x1="252.50" y1="216.40" x2="252.50" y2="219.20" class="tk"/>
<line x1="283.67" y1="362.30" x2="283.67" y2="359.00" class="tk"/>
<line x1="283.67" y1="216.40" x2="283.67" y2="219.20" class="tk"/>
<line x1="314.83" y1="362.30" x2="314.83" y2="359.00" class="tk"/>
<line x1="314.83" y1="216.40" x2="314.83" y2="219.20" class="tk"/>
<line x1="346.00" y1="362.30" x2="346.00" y2="359.00" class="tk"/>
<line x1="346.00" y1="216.40" x2="346.00" y2="219.20" class="tk"/>
<line x1="377.17" y1="362.30" x2="377.17" y2="359.00" class="tk"/>
<line x1="377.17" y1="216.40" x2="377.17" y2="219.20" class="tk"/>
<line x1="408.33" y1="362.30" x2="408.33" y2="359.00" class="tk"/>
<line x1="408.33" y1="216.40" x2="408.33" y2="219.20" class="tk"/>
<line x1="439.50" y1="362.30" x2="439.50" y2="359.00" class="tk"/>
<line x1="439.50" y1="216.40" x2="439.50" y2="219.20" class="tk"/>
<line x1="251.00" y1="360.80" x2="254.30" y2="360.80" class="tk"/>
<line x1="440.50" y1="360.80" x2="437.70" y2="360.80" class="tk"/>
<line x1="251.00" y1="324.95" x2="254.30" y2="324.95" class="tk"/>
<line x1="440.50" y1="324.95" x2="437.70" y2="324.95" class="tk"/>
<line x1="251.00" y1="289.10" x2="254.30" y2="289.10" class="tk"/>
<line x1="440.50" y1="289.10" x2="437.70" y2="289.10" class="tk"/>
<line x1="251.00" y1="253.25" x2="254.30" y2="253.25" class="tk"/>
<line x1="440.50" y1="253.25" x2="437.70" y2="253.25" class="tk"/>
<line x1="251.00" y1="217.40" x2="254.30" y2="217.40" class="tk"/>
<line x1="440.50" y1="217.40" x2="437.70" y2="217.40" class="tk"/>
<text x="252.50" y="371.40" class="tl" text-anchor="middle">0</text>
<text x="283.67" y="371.40" class="tl" text-anchor="middle">10</text>
<text x="314.83" y="371.40" class="tl" text-anchor="middle">20</text>
<text x="346.00" y="371.40" class="tl" text-anchor="middle">30</text>
<text x="377.17" y="371.40" class="tl" text-anchor="middle">40</text>
<text x="408.33" y="371.40" class="tl" text-anchor="middle">50</text>
<text x="439.50" y="371.40" class="tl" text-anchor="middle">60</text>
<text x="251.30" y="364.50" class="tl" text-anchor="end">0</text>
<text x="251.30" y="328.65" class="tl" text-anchor="end">2</text>
<text x="251.30" y="292.80" class="tl" text-anchor="end">4</text>
<text x="251.30" y="256.95" class="tl" text-anchor="end">6</text>
<text x="251.30" y="221.10" class="tl" text-anchor="end">8</text>
<text x="346.00" y="383.80" class="al" text-anchor="middle"><tspan class="it">ω</tspan> [<tspan class="it">rad/s</tspan>]</text>
<text transform="translate(241.80,288.10) rotate(-90)" class="al" text-anchor="middle"><tspan class="it">A</tspan> [10<tspan class="sup" dy="-7">3</tspan><tspan dy="7" class="it">m</tspan>]</text>
<text x="338.90" y="210.20" class="lt">(e)</text>
<text x="363.20" y="214.90" class="tt">1:6 oscillations</text>
<path d="M482.50,217.40H669.70V360.80" class="ax2"/>
<path d="M482.50,216.90V360.80H670.20" class="ax"/>
<line x1="482.50" y1="362.30" x2="482.50" y2="359.00" class="tk"/>
<line x1="482.50" y1="216.40" x2="482.50" y2="219.20" class="tk"/>
<line x1="513.70" y1="362.30" x2="513.70" y2="359.00" class="tk"/>
<line x1="513.70" y1="216.40" x2="513.70" y2="219.20" class="tk"/>
<line x1="544.90" y1="362.30" x2="544.90" y2="359.00" class="tk"/>
<line x1="544.90" y1="216.40" x2="544.90" y2="219.20" class="tk"/>
<line x1="576.10" y1="362.30" x2="576.10" y2="359.00" class="tk"/>
<line x1="576.10" y1="216.40" x2="576.10" y2="219.20" class="tk"/>
<line x1="607.30" y1="362.30" x2="607.30" y2="359.00" class="tk"/>
<line x1="607.30" y1="216.40" x2="607.30" y2="219.20" class="tk"/>
<line x1="638.50" y1="362.30" x2="638.50" y2="359.00" class="tk"/>
<line x1="638.50" y1="216.40" x2="638.50" y2="219.20" class="tk"/>
<line x1="669.70" y1="362.30" x2="669.70" y2="359.00" class="tk"/>
<line x1="669.70" y1="216.40" x2="669.70" y2="219.20" class="tk"/>
<line x1="481.00" y1="360.80" x2="484.30" y2="360.80" class="tk"/>
<line x1="670.70" y1="360.80" x2="667.90" y2="360.80" class="tk"/>
<line x1="481.00" y1="324.95" x2="484.30" y2="324.95" class="tk"/>
<line x1="670.70" y1="324.95" x2="667.90" y2="324.95" class="tk"/>
<line x1="481.00" y1="289.10" x2="484.30" y2="289.10" class="tk"/>
<line x1="670.70" y1="289.10" x2="667.90" y2="289.10" class="tk"/>
<line x1="481.00" y1="253.25" x2="484.30" y2="253.25" class="tk"/>
<line x1="670.70" y1="253.25" x2="667.90" y2="253.25" class="tk"/>
<line x1="481.00" y1="217.40" x2="484.30" y2="217.40" class="tk"/>
<line x1="670.70" y1="217.40" x2="667.90" y2="217.40" class="tk"/>
<text x="482.50" y="371.40" class="tl" text-anchor="middle">0</text>
<text x="513.70" y="371.40" class="tl" text-anchor="middle">10</text>
<text x="544.90" y="371.40" class="tl" text-anchor="middle">20</text>
<text x="576.10" y="371.40" class="tl" text-anchor="middle">30</text>
<text x="607.30" y="371.40" class="tl" text-anchor="middle">40</text>
<text x="638.50" y="371.40" class="tl" text-anchor="middle">50</text>
<text x="669.70" y="371.40" class="tl" text-anchor="middle">60</text>
<text x="481.30" y="364.50" class="tl" text-anchor="end">0</text>
<text x="481.30" y="328.65" class="tl" text-anchor="end">2</text>
<text x="481.30" y="292.80" class="tl" text-anchor="end">4</text>
<text x="481.30" y="256.95" class="tl" text-anchor="end">6</text>
<text x="481.30" y="221.10" class="tl" text-anchor="end">8</text>
<text x="576.10" y="383.80" class="al" text-anchor="middle"><tspan class="it">ω</tspan> [<tspan class="it">rad/s</tspan>]</text>
<text transform="translate(471.80,288.10) rotate(-90)" class="al" text-anchor="middle"><tspan class="it">A</tspan> [10<tspan class="sup" dy="-7">3</tspan><tspan dy="7" class="it">m</tspan>]</text>
<text x="568.90" y="210.20" class="lt">(f)</text>
<text x="593.80" y="214.90" class="tt">1:8 oscillations</text>
<path d="M22.50,418.40H209.30V562.30" class="ax2"/>
<path d="M22.50,417.90V562.30H209.80" class="ax"/>
<line x1="22.50" y1="563.80" x2="22.50" y2="560.50" class="tk"/>
<line x1="22.50" y1="417.40" x2="22.50" y2="420.20" class="tk"/>
<line x1="53.63" y1="563.80" x2="53.63" y2="560.50" class="tk"/>
<line x1="53.63" y1="417.40" x2="53.63" y2="420.20" class="tk"/>
<line x1="84.77" y1="563.80" x2="84.77" y2="560.50" class="tk"/>
<line x1="84.77" y1="417.40" x2="84.77" y2="420.20" class="tk"/>
<line x1="115.90" y1="563.80" x2="115.90" y2="560.50" class="tk"/>
<line x1="115.90" y1="417.40" x2="115.90" y2="420.20" class="tk"/>
<line x1="147.03" y1="563.80" x2="147.03" y2="560.50" class="tk"/>
<line x1="147.03" y1="417.40" x2="147.03" y2="420.20" class="tk"/>
<line x1="178.17" y1="563.80" x2="178.17" y2="560.50" class="tk"/>
<line x1="178.17" y1="417.40" x2="178.17" y2="420.20" class="tk"/>
<line x1="209.30" y1="563.80" x2="209.30" y2="560.50" class="tk"/>
<line x1="209.30" y1="417.40" x2="209.30" y2="420.20" class="tk"/>
<line x1="21.00" y1="562.30" x2="24.30" y2="562.30" class="tk"/>
<line x1="210.30" y1="562.30" x2="207.50" y2="562.30" class="tk"/>
<line x1="21.00" y1="526.32" x2="24.30" y2="526.32" class="tk"/>
<line x1="210.30" y1="526.32" x2="207.50" y2="526.32" class="tk"/>
<line x1="21.00" y1="490.35" x2="24.30" y2="490.35" class="tk"/>
<line x1="210.30" y1="490.35" x2="207.50" y2="490.35" class="tk"/>
<line x1="21.00" y1="454.38" x2="24.30" y2="454.38" class="tk"/>
<line x1="210.30" y1="454.38" x2="207.50" y2="454.38" class="tk"/>
<line x1="21.00" y1="418.40" x2="24.30" y2="418.40" class="tk"/>
<line x1="210.30" y1="418.40" x2="207.50" y2="418.40" class="tk"/>
<text x="22.50" y="572.90" class="tl" text-anchor="middle">0</text>
<text x="53.63" y="572.90" class="tl" text-anchor="middle">10</text>
<text x="84.77" y="572.90" class="tl" text-anchor="middle">20</text>
<text x="115.90" y="572.90" class="tl" text-anchor="middle">30</text>
<text x="147.03" y="572.90" class="tl" text-anchor="middle">40</text>
<text x="178.17" y="572.90" class="tl" text-anchor="middle">50</text>
<text x="209.30" y="572.90" class="tl" text-anchor="middle">60</text>
<text x="21.30" y="566.00" class="tl" text-anchor="end">0</text>
<text x="21.30" y="530.02" class="tl" text-anchor="end">2</text>
<text x="21.30" y="494.05" class="tl" text-anchor="end">4</text>
<text x="21.30" y="458.07" class="tl" text-anchor="end">6</text>
<text x="21.30" y="422.10" class="tl" text-anchor="end">8</text>
<text x="115.90" y="585.30" class="al" text-anchor="middle"><tspan class="it">ω</tspan> [<tspan class="it">rad/s</tspan>]</text>
<text transform="translate(11.80,489.35) rotate(-90)" class="al" text-anchor="middle"><tspan class="it">A</tspan> [10<tspan class="sup" dy="-7">3</tspan><tspan dy="7" class="it">m</tspan>]</text>
<text x="108.90" y="411.20" class="lt">(g)</text>
<text x="143.90" y="416.60" class="tt">1:1 rotations</text>
<path d="M252.50,418.40H439.50V562.30" class="ax2"/>
<path d="M252.50,417.90V562.30H440.00" class="ax"/>
<line x1="252.50" y1="563.80" x2="252.50" y2="560.50" class="tk"/>
<line x1="252.50" y1="417.40" x2="252.50" y2="420.20" class="tk"/>
<line x1="283.67" y1="563.80" x2="283.67" y2="560.50" class="tk"/>
<line x1="283.67" y1="417.40" x2="283.67" y2="420.20" class="tk"/>
<line x1="314.83" y1="563.80" x2="314.83" y2="560.50" class="tk"/>
<line x1="314.83" y1="417.40" x2="314.83" y2="420.20" class="tk"/>
<line x1="346.00" y1="563.80" x2="346.00" y2="560.50" class="tk"/>
<line x1="346.00" y1="417.40" x2="346.00" y2="420.20" class="tk"/>
<line x1="377.17" y1="563.80" x2="377.17" y2="560.50" class="tk"/>
<line x1="377.17" y1="417.40" x2="377.17" y2="420.20" class="tk"/>
<line x1="408.33" y1="563.80" x2="408.33" y2="560.50" class="tk"/>
<line x1="408.33" y1="417.40" x2="408.33" y2="420.20" class="tk"/>
<line x1="439.50" y1="563.80" x2="439.50" y2="560.50" class="tk"/>
<line x1="439.50" y1="417.40" x2="439.50" y2="420.20" class="tk"/>
<line x1="251.00" y1="562.30" x2="254.30" y2="562.30" class="tk"/>
<line x1="440.50" y1="562.30" x2="437.70" y2="562.30" class="tk"/>
<line x1="251.00" y1="526.32" x2="254.30" y2="526.32" class="tk"/>
<line x1="440.50" y1="526.32" x2="437.70" y2="526.32" class="tk"/>
<line x1="251.00" y1="490.35" x2="254.30" y2="490.35" class="tk"/>
<line x1="440.50" y1="490.35" x2="437.70" y2="490.35" class="tk"/>
<line x1="251.00" y1="454.38" x2="254.30" y2="454.38" class="tk"/>
<line x1="440.50" y1="454.38" x2="437.70" y2="454.38" class="tk"/>
<line x1="251.00" y1="418.40" x2="254.30" y2="418.40" class="tk"/>
<line x1="440.50" y1="418.40" x2="437.70" y2="418.40" class="tk"/>
<text x="252.50" y="572.90" class="tl" text-anchor="middle">0</text>
<text x="283.67" y="572.90" class="tl" text-anchor="middle">10</text>
<text x="314.83" y="572.90" class="tl" text-anchor="middle">20</text>
<text x="346.00" y="572.90" class="tl" text-anchor="middle">30</text>
<text x="377.17" y="572.90" class="tl" text-anchor="middle">40</text>
<text x="408.33" y="572.90" class="tl" text-anchor="middle">50</text>
<text x="439.50" y="572.90" class="tl" text-anchor="middle">60</text>
<text x="251.30" y="566.00" class="tl" text-anchor="end">0</text>
<text x="251.30" y="530.02" class="tl" text-anchor="end">2</text>
<text x="251.30" y="494.05" class="tl" text-anchor="end">4</text>
<text x="251.30" y="458.07" class="tl" text-anchor="end">6</text>
<text x="251.30" y="422.10" class="tl" text-anchor="end">8</text>
<text x="346.00" y="585.30" class="al" text-anchor="middle"><tspan class="it">ω</tspan> [<tspan class="it">rad/s</tspan>]</text>
<text transform="translate(241.80,489.35) rotate(-90)" class="al" text-anchor="middle"><tspan class="it">A</tspan> [10<tspan class="sup" dy="-7">3</tspan><tspan dy="7" class="it">m</tspan>]</text>
<text x="338.90" y="411.20" class="lt">(h)</text>
<text x="372.20" y="416.60" class="tt">1:2 rotations</text>
<path d="M482.50,418.40H669.70V562.30" class="ax2"/>
<path d="M482.50,417.90V562.30H670.20" class="ax"/>
<line x1="482.50" y1="563.80" x2="482.50" y2="560.50" class="tk"/>
<line x1="482.50" y1="417.40" x2="482.50" y2="420.20" class="tk"/>
<line x1="513.70" y1="563.80" x2="513.70" y2="560.50" class="tk"/>
<line x1="513.70" y1="417.40" x2="513.70" y2="420.20" class="tk"/>
<line x1="544.90" y1="563.80" x2="544.90" y2="560.50" class="tk"/>
<line x1="544.90" y1="417.40" x2="544.90" y2="420.20" class="tk"/>
<line x1="576.10" y1="563.80" x2="576.10" y2="560.50" class="tk"/>
<line x1="576.10" y1="417.40" x2="576.10" y2="420.20" class="tk"/>
<line x1="607.30" y1="563.80" x2="607.30" y2="560.50" class="tk"/>
<line x1="607.30" y1="417.40" x2="607.30" y2="420.20" class="tk"/>
<line x1="638.50" y1="563.80" x2="638.50" y2="560.50" class="tk"/>
<line x1="638.50" y1="417.40" x2="638.50" y2="420.20" class="tk"/>
<line x1="669.70" y1="563.80" x2="669.70" y2="560.50" class="tk"/>
<line x1="669.70" y1="417.40" x2="669.70" y2="420.20" class="tk"/>
<line x1="481.00" y1="562.30" x2="484.30" y2="562.30" class="tk"/>
<line x1="670.70" y1="562.30" x2="667.90" y2="562.30" class="tk"/>
<line x1="481.00" y1="526.32" x2="484.30" y2="526.32" class="tk"/>
<line x1="670.70" y1="526.32" x2="667.90" y2="526.32" class="tk"/>
<line x1="481.00" y1="490.35" x2="484.30" y2="490.35" class="tk"/>
<line x1="670.70" y1="490.35" x2="667.90" y2="490.35" class="tk"/>
<line x1="481.00" y1="454.38" x2="484.30" y2="454.38" class="tk"/>
<line x1="670.70" y1="454.38" x2="667.90" y2="454.38" class="tk"/>
<line x1="481.00" y1="418.40" x2="484.30" y2="418.40" class="tk"/>
<line x1="670.70" y1="418.40" x2="667.90" y2="418.40" class="tk"/>
<text x="482.50" y="572.90" class="tl" text-anchor="middle">0</text>
<text x="513.70" y="572.90" class="tl" text-anchor="middle">10</text>
<text x="544.90" y="572.90" class="tl" text-anchor="middle">20</text>
<text x="576.10" y="572.90" class="tl" text-anchor="middle">30</text>
<text x="607.30" y="572.90" class="tl" text-anchor="middle">40</text>
<text x="638.50" y="572.90" class="tl" text-anchor="middle">50</text>
<text x="669.70" y="572.90" class="tl" text-anchor="middle">60</text>
<text x="481.30" y="566.00" class="tl" text-anchor="end">0</text>
<text x="481.30" y="530.02" class="tl" text-anchor="end">2</text>
<text x="481.30" y="494.05" class="tl" text-anchor="end">4</text>
<text x="481.30" y="458.07" class="tl" text-anchor="end">6</text>
<text x="481.30" y="422.10" class="tl" text-anchor="end">8</text>
<text x="576.10" y="585.30" class="al" text-anchor="middle"><tspan class="it">ω</tspan> [<tspan class="it">rad/s</tspan>]</text>
<text transform="translate(471.80,489.35) rotate(-90)" class="al" text-anchor="middle"><tspan class="it">A</tspan> [10<tspan class="sup" dy="-7">3</tspan><tspan dy="7" class="it">m</tspan>]</text>
<text x="568.90" y="411.20" class="lt">(i)</text>
<text x="602.20" y="416.60" class="tt">1:3 rotations</text>
<line x1="108.4" y1="610.3" x2="129" y2="610.3" stroke="#111" stroke-width="1.5"/>
<text x="132.2" y="613.7" class="lg">saddle-node</text>
<line x1="229" y1="610.3" x2="249.6" y2="610.3" stroke="#111" stroke-width="1.5" stroke-dasharray="4.2 3"/>
<text x="252" y="613.7" class="lg">period doubling</text>
<line x1="344.8" y1="610.3" x2="365.5" y2="610.3" stroke="#111" stroke-width="1.5" stroke-dasharray="6.2 1.3 0.8 1.3"/>
<text x="368.2" y="613.7" class="lg">branching bifurcation</text>
<line x1="479" y1="610.3" x2="495" y2="610.3" stroke="#111" stroke-width="1.4" stroke-dasharray="1.2 6.15"/>
<text x="501.8" y="613.7" class="lg">symmetry breaking</text>
<circle cx="247.6" cy="626.6" r="1.5" fill="#111"/>
<text x="260.6" y="630.0" class="lg">starting point</text>
<path d="M344.6,628.2 v-5.2 M344.6,625.6 h4.2 M361.6,628.2 v-5.2 M361.6,625.6 h-4.2" stroke="#666" stroke-width="0.9" fill="none"/>
<text x="367" y="630.0" class="lg">limit of stability</text>
</svg>
</body></html>
